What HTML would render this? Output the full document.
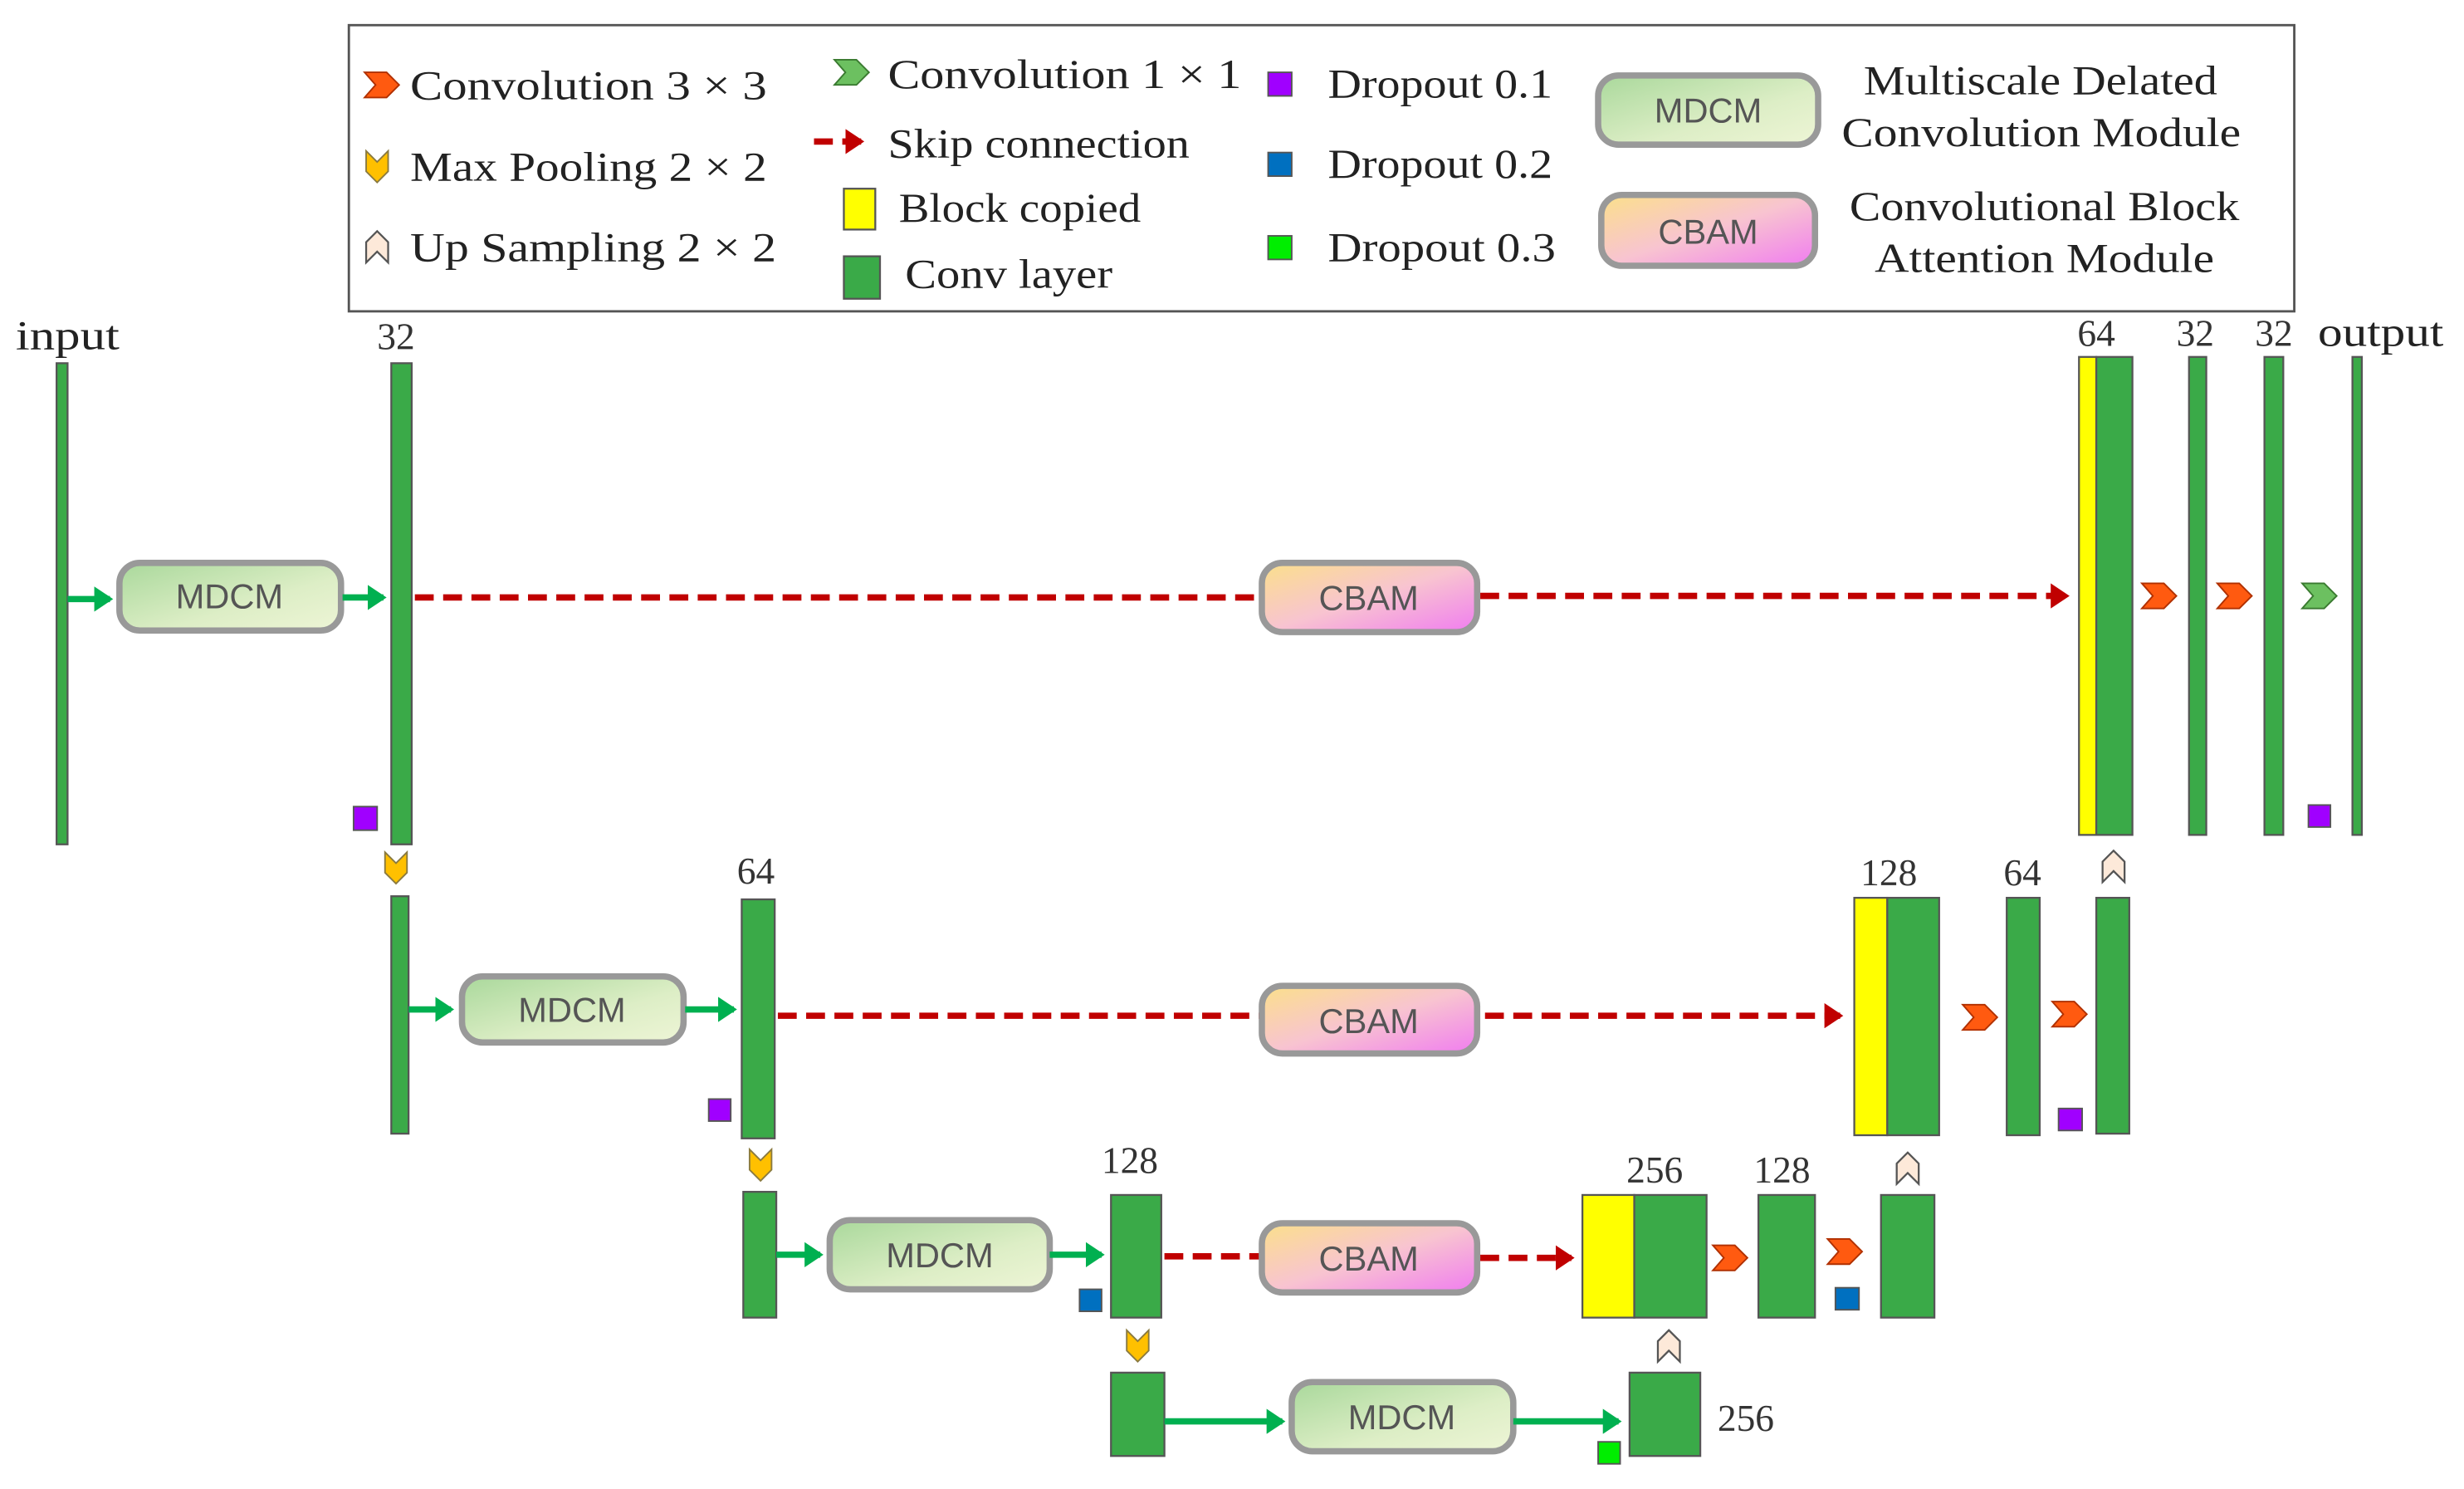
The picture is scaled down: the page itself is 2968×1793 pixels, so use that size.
<!DOCTYPE html>
<html><head><meta charset="utf-8"><style>
html,body{margin:0;padding:0;background:#fff}
svg{display:block}
.t{font-family:"Liberation Serif",serif;fill:#222;font-size:26px}
.n{font-family:"Liberation Serif",serif;fill:#333;font-size:24px}
.p{font-family:"Liberation Sans",sans-serif;fill:#555;font-size:22px;text-anchor:middle}
.g{fill:#3aaa48;stroke:#555;stroke-width:1.2}
.y{fill:#ffff00;stroke:#555;stroke-width:1.2}
.m{stroke:#999;stroke-width:4;fill:url(#gm)}
.c{stroke:#999;stroke-width:4;fill:url(#gc)}
.ga{stroke:#00b050;stroke-width:4}
.rd{stroke:#c00000;stroke-width:4;stroke-dasharray:12 6}
</style></head><body>
<svg width="2968" height="1793" viewBox="0 0 1568 947" preserveAspectRatio="none" xmlns="http://www.w3.org/2000/svg">
<defs>
<linearGradient id="gm" x1="0" y1="0" x2="1" y2="1"><stop offset="0" stop-color="#a9d89b"/><stop offset="0.6" stop-color="#ddeec6"/><stop offset="1" stop-color="#eef5d6"/></linearGradient>
<linearGradient id="gc" x1="0" y1="0" x2="1" y2="1"><stop offset="0" stop-color="#fbe08a"/><stop offset="0.5" stop-color="#f8c4d0"/><stop offset="1" stop-color="#f07cf0"/></linearGradient>
<polygon id="cv" points="-11,-8 3,-8 11,0 3,8 -11,8 -4,0" fill="#ff5a10" stroke="#b03000" stroke-width="1"/>
<polygon id="cg" points="-11,-8 3,-8 11,0 3,8 -11,8 -4,0" fill="#6cc060" stroke="#3a7a30" stroke-width="1"/>
<polygon id="pl" points="-7,-10 0,-3 7,-10 7,3 0,10 -7,3" fill="#ffc000" stroke="#8a7a40" stroke-width="1"/>
<polygon id="up" points="-7,10 0,3 7,10 7,-3 0,-10 -7,-3" fill="#fde9d9" stroke="#555" stroke-width="1.2"/>
<marker id="ag" markerWidth="4" markerHeight="4" refX="2.5" refY="2" orient="auto" markerUnits="strokeWidth"><path d="M0,0 L3,2 L0,4 z" fill="#00b050"/></marker>
<marker id="ar" markerWidth="4" markerHeight="4" refX="2.5" refY="2" orient="auto" markerUnits="strokeWidth"><path d="M0,0 L3,2 L0,4 z" fill="#c00000"/></marker>
</defs>

<!-- legend -->
<rect x="222" y="16" width="1238" height="182" fill="#fff" stroke="#555" stroke-width="1.5"/>
<use href="#cv" x="243" y="54"/>
<text class="t" x="261" y="63" textLength="227" lengthAdjust="spacingAndGlyphs">Convolution 3 × 3</text>
<use href="#pl" x="240" y="106"/>
<text class="t" x="261" y="115" textLength="227" lengthAdjust="spacingAndGlyphs">Max Pooling 2 × 2</text>
<use href="#up" x="240" y="157"/>
<text class="t" x="261" y="166" textLength="233" lengthAdjust="spacingAndGlyphs">Up Sampling 2 × 2</text>
<use href="#cg" x="542" y="46"/>
<text class="t" x="565" y="56" textLength="225" lengthAdjust="spacingAndGlyphs">Convolution 1 × 1</text>
<line x1="518" y1="90" x2="548" y2="90" class="rd" marker-end="url(#ar)"/>
<text class="t" x="565" y="100" textLength="192" lengthAdjust="spacingAndGlyphs">Skip connection</text>
<rect x="537" y="120" width="20" height="26" class="y"/>
<text class="t" x="572" y="141" textLength="154" lengthAdjust="spacingAndGlyphs">Block copied</text>
<rect x="537" y="163" width="23" height="27" class="g"/>
<text class="t" x="576" y="183" textLength="132" lengthAdjust="spacingAndGlyphs">Conv layer</text>
<rect x="807" y="46" width="15" height="15" fill="#a000ff" stroke="#555"/>
<text class="t" x="845" y="62" textLength="143" lengthAdjust="spacingAndGlyphs">Dropout 0.1</text>
<rect x="807" y="97" width="15" height="15" fill="#0070c0" stroke="#555"/>
<text class="t" x="845" y="113" textLength="143" lengthAdjust="spacingAndGlyphs">Dropout 0.2</text>
<rect x="807" y="150" width="15" height="15" fill="#00ee00" stroke="#555"/>
<text class="t" x="845" y="166" textLength="145" lengthAdjust="spacingAndGlyphs">Dropout 0.3</text>
<rect x="1017" y="48" width="140" height="44" rx="13" class="m"/>
<text class="p" x="1087" y="78">MDCM</text>
<rect x="1019" y="124" width="136" height="45" rx="13" class="c"/>
<text class="p" x="1087" y="155">CBAM</text>
<text class="t" x="1186" y="60" textLength="225" lengthAdjust="spacingAndGlyphs">Multiscale Delated</text>
<text class="t" x="1172" y="93" textLength="254" lengthAdjust="spacingAndGlyphs">Convolution Module</text>
<text class="t" x="1177" y="140" textLength="248" lengthAdjust="spacingAndGlyphs">Convolutional Block</text>
<text class="t" x="1193" y="173" textLength="216" lengthAdjust="spacingAndGlyphs">Attention Module</text>

<!-- level 1 -->
<text class="t" x="10" y="222" textLength="66" lengthAdjust="spacingAndGlyphs">input</text>
<text class="n" x="252" y="222" text-anchor="middle">32</text>
<rect x="36" y="231" width="7" height="306" class="g"/>
<line x1="43" y1="381" x2="70" y2="381" class="ga" marker-end="url(#ag)"/>
<rect x="76" y="358" width="141" height="43" rx="13" class="m"/>
<text class="p" x="146" y="387">MDCM</text>
<line x1="218" y1="380" x2="244" y2="380" class="ga" marker-end="url(#ag)"/>
<rect x="249" y="231" width="13" height="306" class="g"/>
<rect x="225" y="513" width="15" height="15" fill="#a000ff" stroke="#555"/>
<line x1="264" y1="380" x2="803" y2="380" class="rd"/>
<rect x="803" y="358" width="137" height="44" rx="13" class="c"/>
<text class="p" x="871" y="388">CBAM</text>
<line x1="942" y1="379" x2="1315" y2="379" class="rd" marker-end="url(#ar)"/>
<text class="n" x="1334" y="220" text-anchor="middle">64</text>
<text class="n" x="1397" y="220" text-anchor="middle">32</text>
<text class="n" x="1447" y="220" text-anchor="middle">32</text>
<text class="t" x="1475" y="220" textLength="80" lengthAdjust="spacingAndGlyphs">output</text>
<rect x="1323" y="227" width="11" height="304" class="y"/>
<rect x="1334" y="227" width="23" height="304" class="g"/>
<use href="#cv" x="1374" y="379"/>
<rect x="1393" y="227" width="11" height="304" class="g"/>
<use href="#cv" x="1422" y="379"/>
<rect x="1441" y="227" width="12" height="304" class="g"/>
<use href="#cg" x="1476" y="379"/>
<rect x="1469" y="512" width="14" height="14" fill="#a000ff" stroke="#555"/>
<rect x="1497" y="227" width="6" height="304" class="g"/>

<!-- level 2 -->
<use href="#pl" x="252" y="552"/>
<rect x="249" y="570" width="11" height="151" class="g"/>
<line x1="260" y1="642" x2="287" y2="642" class="ga" marker-end="url(#ag)"/>
<rect x="294" y="621" width="141" height="42" rx="13" class="m"/>
<text class="p" x="364" y="650">MDCM</text>
<line x1="436" y1="642" x2="467" y2="642" class="ga" marker-end="url(#ag)"/>
<text class="n" x="481" y="562" text-anchor="middle">64</text>
<rect x="472" y="572" width="21" height="152" class="g"/>
<rect x="451" y="699" width="14" height="14" fill="#a000ff" stroke="#555"/>
<line x1="495" y1="646" x2="803" y2="646" class="rd"/>
<rect x="803" y="627" width="137" height="43" rx="13" class="c"/>
<text class="p" x="871" y="657">CBAM</text>
<line x1="945" y1="646" x2="1171" y2="646" class="rd" marker-end="url(#ar)"/>
<text class="n" x="1202" y="563" text-anchor="middle">128</text>
<rect x="1180" y="571" width="21" height="151" class="y"/>
<rect x="1201" y="571" width="33" height="151" class="g"/>
<use href="#cv" x="1260" y="647"/>
<text class="n" x="1287" y="563" text-anchor="middle">64</text>
<rect x="1277" y="571" width="21" height="151" class="g"/>
<use href="#cv" x="1317" y="645"/>
<rect x="1310" y="705" width="15" height="14" fill="#a000ff" stroke="#555"/>
<use href="#up" x="1345" y="551"/>
<rect x="1334" y="571" width="21" height="150" class="g"/>

<!-- level 3 -->
<use href="#pl" x="484" y="741"/>
<rect x="473" y="758" width="21" height="80" class="g"/>
<line x1="494" y1="798" x2="522" y2="798" class="ga" marker-end="url(#ag)"/>
<rect x="528" y="776" width="140" height="44" rx="13" class="m"/>
<text class="p" x="598" y="806">MDCM</text>
<line x1="668" y1="798" x2="701" y2="798" class="ga" marker-end="url(#ag)"/>
<text class="n" x="719" y="746" text-anchor="middle">128</text>
<rect x="707" y="760" width="32" height="78" class="g"/>
<rect x="687" y="820" width="14" height="14" fill="#0070c0" stroke="#555"/>
<line x1="741" y1="799" x2="803" y2="799" class="rd"/>
<rect x="803" y="778" width="137" height="44" rx="13" class="c"/>
<text class="p" x="871" y="808">CBAM</text>
<line x1="942" y1="800" x2="1000" y2="800" class="rd" marker-end="url(#ar)"/>
<text class="n" x="1053" y="752" text-anchor="middle">256</text>
<rect x="1007" y="760" width="33" height="78" class="y"/>
<rect x="1040" y="760" width="46" height="78" class="g"/>
<use href="#cv" x="1101" y="800"/>
<text class="n" x="1134" y="752" text-anchor="middle">128</text>
<rect x="1119" y="760" width="36" height="78" class="g"/>
<use href="#cv" x="1174" y="796"/>
<rect x="1168" y="819" width="15" height="14" fill="#0070c0" stroke="#555"/>
<use href="#up" x="1214" y="743"/>
<rect x="1197" y="760" width="34" height="78" class="g"/>

<!-- level 4 -->
<use href="#pl" x="724" y="856"/>
<rect x="707" y="873" width="34" height="53" class="g"/>
<line x1="741" y1="904" x2="816" y2="904" class="ga" marker-end="url(#ag)"/>
<rect x="822" y="879" width="141" height="44" rx="13" class="m"/>
<text class="p" x="892" y="909">MDCM</text>
<line x1="963" y1="904" x2="1030" y2="904" class="ga" marker-end="url(#ag)"/>
<use href="#up" x="1062" y="856"/>
<rect x="1037" y="873" width="45" height="53" class="g"/>
<rect x="1017" y="917" width="14" height="14" fill="#00ee00" stroke="#555"/>
<text class="n" x="1093" y="910">256</text>
</svg>
</body></html>
